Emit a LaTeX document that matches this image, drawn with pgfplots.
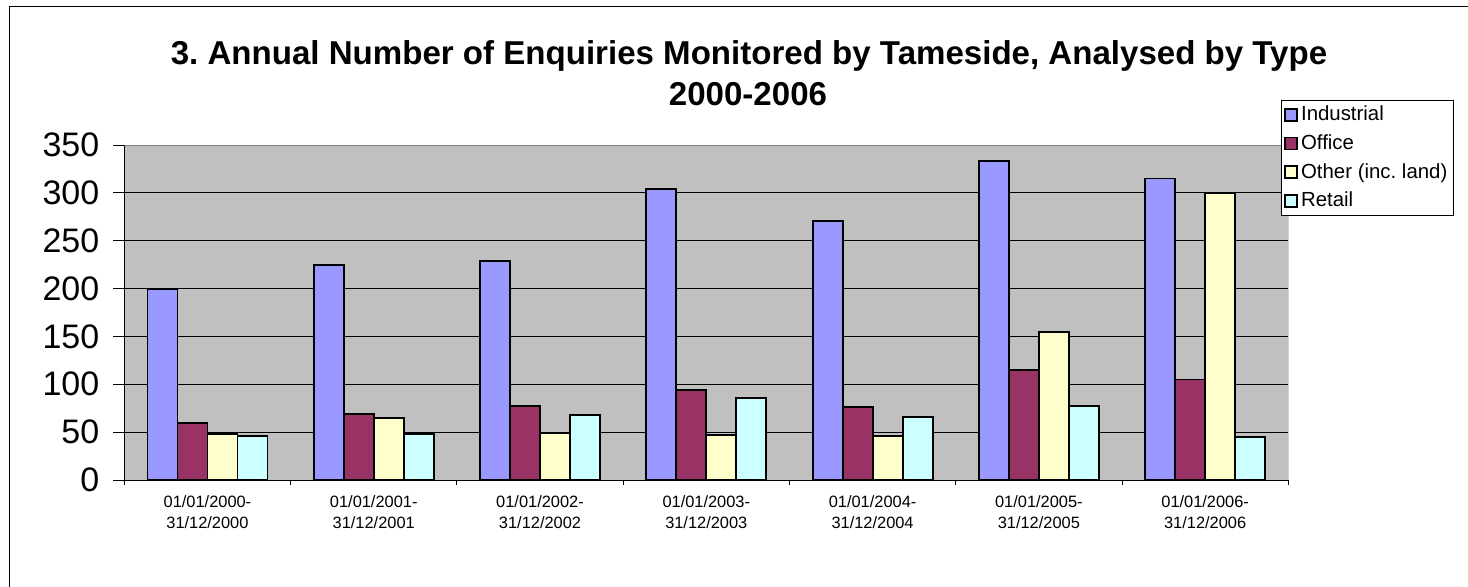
\documentclass[border=0pt]{standalone}
\usepackage{pgfplots}
\pgfplotsset{compat=1.18}
\usepackage{fontspec}
\setmainfont{Liberation Sans}
\definecolor{cInd}{HTML}{9999FF}
\definecolor{cOff}{HTML}{993366}
\definecolor{cOth}{HTML}{FFFFCC}
\definecolor{cRet}{HTML}{CCFFFF}
\definecolor{plotbg}{HTML}{C0C0C0}
\definecolor{frameg}{HTML}{808080}
\begin{document}
\frenchspacing
\begin{tikzpicture}[x=0.75pt,y=0.75pt]
\useasboundingbox (0,0) rectangle (1468,586);
\draw[line width=0.75pt] (9.5,-10) -- (9.5,579.5) -- (1480,579.5);
\node[font=\fontsize{24.8}{28}\selectfont\bfseries, anchor=base, inner sep=0pt] at (749,521.7) {3. Annual Number of Enquiries Monitored by Tameside, Analysed by Type};
\node[font=\fontsize{24.8}{28}\selectfont\bfseries, anchor=base, inner sep=0pt] at (748,480) {2000-2006};
\begin{axis}[
  at={(93.225pt,79.5pt)}, anchor=south west,
  scale only axis, width=873pt, height=251.25pt,
  ybar=0pt, bar width=0.1804,
  xmin=-0.5, xmax=6.5, ymin=0, ymax=350,
  axis background/.style={fill=plotbg},
  axis x line*=bottom, axis y line*=left,
  axis line style={black, line width=0.75pt},
  tick align=outside,
  ytick={0,50,...,350},
  xtick={0,...,6},
  xticklabels={{01/01/2000-\\31/12/2000},{01/01/2001-\\31/12/2001},{01/01/2002-\\31/12/2002},{01/01/2003-\\31/12/2003},{01/01/2004-\\31/12/2004},{01/01/2005-\\31/12/2005},{01/01/2006-\\31/12/2006}},
  major x tick style={draw=none},
  minor xtick={-0.5,0.5,...,6.5},
  minor tick length=3.75pt,
  major tick length=8.25pt,
  tick style={black, line width=0.75pt},
  ymajorgrids, grid style={black, line width=0.75pt},
  /pgf/number format/assume math mode=true,
  yticklabel style={font=\fontsize{25.5}{30}\selectfont, xshift=-7pt},
  xticklabel style={align=center, font=\fontsize{12.3}{15.4}\selectfont},
  every axis plot post/.append style={draw=black, line width=1.4pt,
    legend image code/.code={\draw[##1,draw=black,line width=1.2pt] (0pt,-4.5pt) rectangle (9pt,4.5pt);}},
  legend style={at={(0.99373,1.1343)}, anchor=north west, draw=black, line width=0.75pt,
    fill=white, inner xsep=2pt, inner ysep=0pt,
    font=\fontsize{15.3}{18}\selectfont,
    nodes={inner xsep=2.5pt, inner ysep=2.25pt, text height=13pt, text depth=4pt},
    cells={anchor=west}, row sep=0pt},
]
\addplot[fill=cInd] coordinates {(0,199) (1,225) (2,229) (3,304) (4,271) (5,333) (6,315)};
\addplot[fill=cOff] coordinates {(0,60) (1,69) (2,77) (3,94) (4,76) (5,115) (6,105)};
\addplot[fill=cOth] coordinates {(0,48) (1,65) (2,49) (3,47) (4,46) (5,155) (6,300)};
\addplot[fill=cRet] coordinates {(0,46) (1,48) (2,68) (3,86) (4,66) (5,77) (6,45)};
\legend{Industrial,Office,Other (inc. land),Retail}
\draw[frameg, line width=0.75pt] (rel axis cs:0,1) -- (rel axis cs:1,1) -- (rel axis cs:1,0);
\end{axis}
\end{tikzpicture}
\end{document}
